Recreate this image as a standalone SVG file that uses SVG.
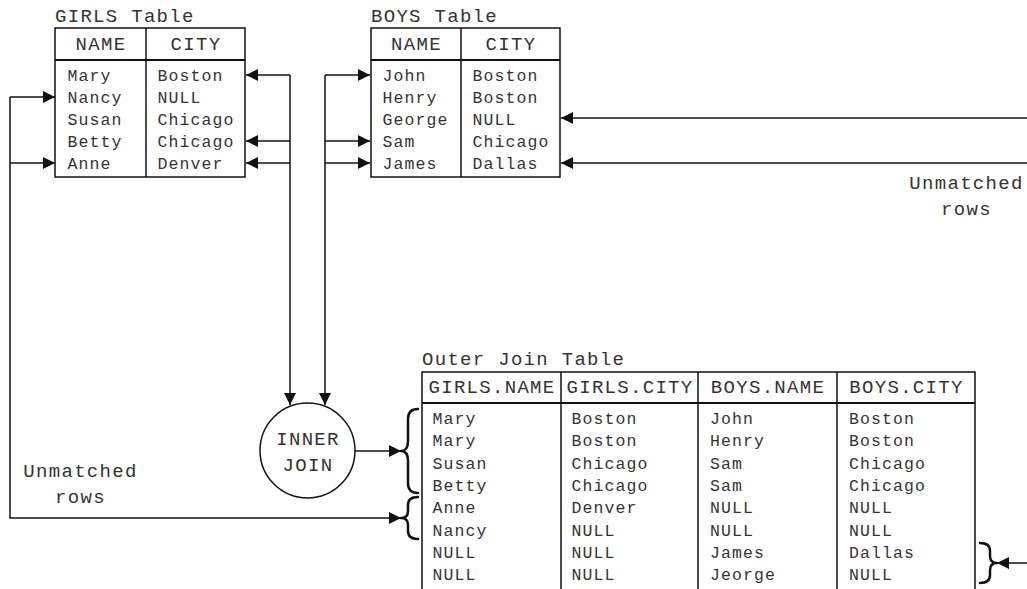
<svg xmlns="http://www.w3.org/2000/svg" width="1027" height="589" viewBox="0 0 1027 589">
<style>
.t{font-family:"Liberation Mono","Courier New",monospace;fill:#333}
.d{font-size:16.5px;letter-spacing:1.1px}
.h{font-size:19px;letter-spacing:1.3px}
.m{text-anchor:middle}
.box{fill:#fff;stroke:#111;stroke-width:1.5}
.ln{fill:none;stroke:#111;stroke-width:1.5}
.hd{fill:none;stroke:#111;stroke-width:2.2}
.br{fill:none;stroke:#111;stroke-width:2.5;stroke-linecap:round;stroke-linejoin:round}
</style>
<defs>
<marker id="a" viewBox="0 0 12 12" refX="12" refY="6" markerWidth="12" markerHeight="12" markerUnits="userSpaceOnUse" orient="auto">
<path d="M0,0 L12,6 L0,12 Z" fill="#111"/>
</marker>
</defs>
<g id="connectors">
<path class="ln" d="M290,75 V405" marker-end="url(#a)"/>
<path class="ln" d="M290,75 H246" marker-end="url(#a)"/>
<path class="ln" d="M290,141 H246" marker-end="url(#a)"/>
<path class="ln" d="M290,163 H246" marker-end="url(#a)"/>
<path class="ln" d="M325,75 V405" marker-end="url(#a)"/>
<path class="ln" d="M325,75 H370" marker-end="url(#a)"/>
<path class="ln" d="M325,141 H370" marker-end="url(#a)"/>
<path class="ln" d="M325,163 H370" marker-end="url(#a)"/>
<path class="ln" d="M10,97 H55" marker-end="url(#a)"/>
<path class="ln" d="M10,163 H55" marker-end="url(#a)"/>
<path class="ln" d="M10,97 V518 H401" marker-end="url(#a)"/>
<path class="ln" d="M1027,118 H561" marker-end="url(#a)"/>
<path class="ln" d="M1027,163 H561" marker-end="url(#a)"/>
<path class="ln" d="M355,451 H401" marker-end="url(#a)"/>
<path class="ln" d="M1027,563 H997" marker-end="url(#a)"/>
<path class="br" d="M418,409 Q408,409 408,419 L408,441 Q408,451 401,451 Q408,451 408,461 L408,483 Q408,493 418,493"/>
<path class="br" d="M418,497 Q408,497 408,505 L408,511 Q408,518 401,518 Q408,518 408,525 L408,531 Q408,539 418,539"/>
<path class="br" d="M980,543 Q990,543 990,551 L990,556 Q990,563 997,563 Q990,563 990,570 L990,575 Q990,583 980,583"/>
</g>
<g id="girls">
<text class="t h" x="55" y="21.5">GIRLS Table</text>
<rect class="box" x="55" y="28" width="190" height="149"/>
<path class="hd" d="M55,60 H245"/>
<path class="ln" d="M146,28 V177"/>
<text class="t h m" x="101" y="50">NAME</text>
<text class="t h m" x="196" y="50">CITY</text>
<text class="t d" x="67.5" y="81">Mary</text>
<text class="t d" x="67.5" y="103">Nancy</text>
<text class="t d" x="67.5" y="125">Susan</text>
<text class="t d" x="67.5" y="147">Betty</text>
<text class="t d" x="67.5" y="169">Anne</text>
<text class="t d" x="157.5" y="81">Boston</text>
<text class="t d" x="157.5" y="103">NULL</text>
<text class="t d" x="157.5" y="125">Chicago</text>
<text class="t d" x="157.5" y="147">Chicago</text>
<text class="t d" x="157.5" y="169">Denver</text>
</g>
<g id="boys">
<text class="t h" x="371" y="21.5">BOYS Table</text>
<rect class="box" x="371" y="28" width="189" height="149"/>
<path class="hd" d="M371,60 H560"/>
<path class="ln" d="M461,28 V177"/>
<text class="t h m" x="416.5" y="50">NAME</text>
<text class="t h m" x="511" y="50">CITY</text>
<text class="t d" x="382.5" y="81">John</text>
<text class="t d" x="382.5" y="103">Henry</text>
<text class="t d" x="382.5" y="125">George</text>
<text class="t d" x="382.5" y="147">Sam</text>
<text class="t d" x="382.5" y="169">James</text>
<text class="t d" x="472.5" y="81">Boston</text>
<text class="t d" x="472.5" y="103">Boston</text>
<text class="t d" x="472.5" y="125">NULL</text>
<text class="t d" x="472.5" y="147">Chicago</text>
<text class="t d" x="472.5" y="169">Dallas</text>
</g>
<g id="unmatched-right">
<text class="t h m" x="966.5" y="188.5">Unmatched</text>
<text class="t h m" x="966.5" y="215">rows</text>
</g>
<g id="unmatched-left">
<text class="t h m" x="80.5" y="477">Unmatched</text>
<text class="t h m" x="80.5" y="503">rows</text>
</g>
<g id="inner-join">
<circle class="box" cx="307.5" cy="450.5" r="47.5"/>
<text class="t h m" x="308" y="445">INNER</text>
<text class="t h m" x="308" y="471">JOIN</text>
</g>
<g id="outer-join">
<text class="t h" x="422" y="365">Outer Join Table</text>
<path class="ln" d="M422,589 V372 H975 V589 M561,372 V589 M698,372 V589 M837,372 V589"/>
<path class="hd" d="M422,403 H975"/>
<text class="t h m" x="492" y="393">GIRLS.NAME</text>
<text class="t h m" x="630" y="393">GIRLS.CITY</text>
<text class="t h m" x="768" y="393">BOYS.NAME</text>
<text class="t h m" x="906.5" y="393">BOYS.CITY</text>
<g class="t d">
<text x="432.5" y="424">Mary</text><text x="571.5" y="424">Boston</text><text x="710" y="424">John</text><text x="849" y="424">Boston</text>
<text x="432.5" y="446.3">Mary</text><text x="571.5" y="446.3">Boston</text><text x="710" y="446.3">Henry</text><text x="849" y="446.3">Boston</text>
<text x="432.5" y="468.6">Susan</text><text x="571.5" y="468.6">Chicago</text><text x="710" y="468.6">Sam</text><text x="849" y="468.6">Chicago</text>
<text x="432.5" y="490.9">Betty</text><text x="571.5" y="490.9">Chicago</text><text x="710" y="490.9">Sam</text><text x="849" y="490.9">Chicago</text>
<text x="432.5" y="513.2">Anne</text><text x="571.5" y="513.2">Denver</text><text x="710" y="513.2">NULL</text><text x="849" y="513.2">NULL</text>
<text x="432.5" y="535.5">Nancy</text><text x="571.5" y="535.5">NULL</text><text x="710" y="535.5">NULL</text><text x="849" y="535.5">NULL</text>
<text x="432.5" y="557.8">NULL</text><text x="571.5" y="557.8">NULL</text><text x="710" y="557.8">James</text><text x="849" y="557.8">Dallas</text>
<text x="432.5" y="580.1">NULL</text><text x="571.5" y="580.1">NULL</text><text x="710" y="580.1">Jeorge</text><text x="849" y="580.1">NULL</text>
</g>
</g>
</svg>
